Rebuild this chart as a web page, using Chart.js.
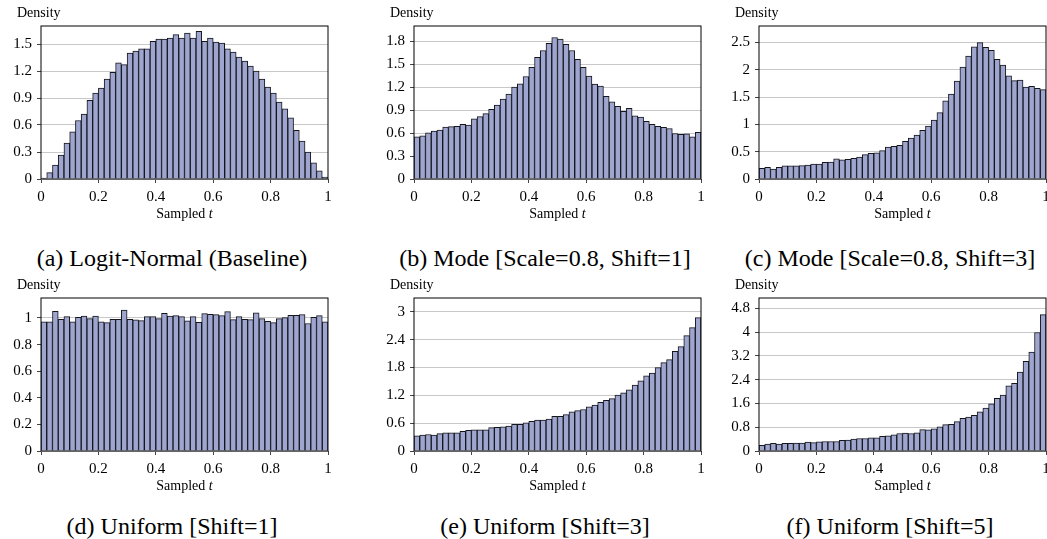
<!DOCTYPE html>
<html>
<head>
<meta charset="utf-8">
<script src="https://cdn.jsdelivr.net/npm/chart.js@4.4.1/dist/chart.umd.min.js"></script>
<style>
    body { margin: 0; background: #fff; }
    #wrap { position: relative; width: 1047px; height: 539px; overflow: hidden; }
    canvas { position: absolute; }
    .cap { position: absolute; width: 360px; text-align: center; font: 24px "Liberation Serif", serif; line-height: 28px; color: #000; }
</style>
</head>
<body>
<div id="wrap"></div>
<script>
// histogram heights, 50 bins on [0, 1]
var logitNormal = [0.01, 0.07, 0.155, 0.265, 0.40, 0.525, 0.65, 0.72, 0.875, 0.955,
    1.01, 1.11, 1.185, 1.29, 1.27, 1.40, 1.42, 1.445, 1.445, 1.53,
    1.555, 1.555, 1.565, 1.605, 1.565, 1.62, 1.565, 1.64, 1.53, 1.565,
    1.52, 1.51, 1.445, 1.41, 1.355, 1.31, 1.255, 1.20, 1.11, 1.02,
    0.955, 0.855, 0.78, 0.68, 0.54, 0.42, 0.30, 0.18, 0.09, 0.02];
var modeShift1 = [0.55, 0.565, 0.605, 0.625, 0.64, 0.68, 0.685, 0.69, 0.715, 0.705,
    0.785, 0.815, 0.855, 0.91, 0.965, 1.045, 1.11, 1.20, 1.245, 1.34,
    1.46, 1.59, 1.68, 1.775, 1.85, 1.83, 1.76, 1.68, 1.565, 1.46,
    1.345, 1.24, 1.215, 1.08, 1.01, 0.95, 0.885, 0.925, 0.825, 0.81,
    0.755, 0.715, 0.69, 0.675, 0.66, 0.595, 0.585, 0.59, 0.55, 0.61];
var modeShift3 = [0.195, 0.215, 0.18, 0.215, 0.24, 0.24, 0.24, 0.245, 0.255, 0.275,
    0.275, 0.305, 0.31, 0.37, 0.35, 0.36, 0.38, 0.40, 0.445, 0.47,
    0.48, 0.52, 0.585, 0.60, 0.615, 0.69, 0.75, 0.805, 0.89, 0.97,
    1.08, 1.215, 1.43, 1.555, 1.79, 2.05, 2.25, 2.42, 2.495, 2.41,
    2.355, 2.19, 2.085, 1.89, 1.80, 1.81, 1.68, 1.695, 1.66, 1.635];
var uniformShift1 = [0.97, 0.97, 1.05, 0.99, 1.01, 0.97, 1.005, 1.015, 0.995, 1.015,
    0.97, 0.965, 0.99, 0.99, 1.06, 0.99, 0.985, 0.98, 1.01, 1.01,
    0.995, 1.035, 1.015, 1.018, 1.01, 0.978, 1.01, 0.968, 1.033, 1.028,
    1.025, 1.018, 1.048, 0.988, 1.01, 0.99, 0.988, 1.038, 0.995, 0.975,
    0.965, 0.995, 1.003, 1.02, 1.02, 1.025, 0.958, 1.005, 1.018, 0.97];
var uniformShift3 = [0.325, 0.345, 0.355, 0.345, 0.375, 0.39, 0.39, 0.39, 0.425, 0.445,
    0.455, 0.455, 0.455, 0.505, 0.51, 0.52, 0.54, 0.575, 0.575, 0.61,
    0.64, 0.665, 0.665, 0.69, 0.75, 0.75, 0.785, 0.845, 0.87, 0.895,
    0.95, 0.99, 1.05, 1.095, 1.13, 1.205, 1.255, 1.32, 1.42, 1.515,
    1.62, 1.68, 1.80, 1.905, 1.97, 2.15, 2.25, 2.49, 2.66, 2.875];
var uniformShift5 = [0.19, 0.23, 0.255, 0.23, 0.255, 0.255, 0.265, 0.265, 0.30, 0.28,
    0.31, 0.32, 0.32, 0.32, 0.355, 0.365, 0.40, 0.42, 0.42, 0.445,
    0.445, 0.49, 0.51, 0.545, 0.59, 0.60, 0.59, 0.61, 0.72, 0.71,
    0.745, 0.81, 0.89, 0.90, 0.99, 1.10, 1.145, 1.20, 1.32, 1.445,
    1.59, 1.77, 1.88, 2.19, 2.28, 2.655, 3.02, 3.33, 3.99, 4.59];

// tick labels
var xTicks = [0, 0.2, 0.4, 0.6, 0.8, 1];
var yTicksA = [0, 0.3, 0.6, 0.9, 1.2, 1.5];
var yTicksB = [0, 0.3, 0.6, 0.9, 1.2, 1.5, 1.8];
var yTicksC = [0, 0.5, 1, 1.5, 2, 2.5];
var yTicksD = [0, 0.2, 0.4, 0.6, 0.8, 1];
var yTicksE = [0, 0.6, 1.2, 1.8, 2.4, 3];
var yTicksF = [0, 0.8, 1.6, 2.4, 3.2, 4, 4.8];

var captions = ["(a) Logit-Normal (Baseline)", "(b) Mode [Scale=0.8, Shift=1]", "(c) Mode [Scale=0.8, Shift=3]",
    "(d) Uniform [Shift=1]", "(e) Uniform [Shift=3]", "(f) Uniform [Shift=5]"];

var panels = [
    { values: logitNormal, yMax: 1.7, yTicks: yTicksA },
    { values: modeShift1, yMax: 2.0, yTicks: yTicksB },
    { values: modeShift3, yMax: 2.8, yTicks: yTicksC },
    { values: uniformShift1, yMax: 1.15, yTicks: yTicksD },
    { values: uniformShift3, yMax: 3.3, yTicks: yTicksE },
    { values: uniformShift5, yMax: 5.15, yTicks: yTicksF }
];

var plotLefts = [41, 414, 759];
var plotTops = [26, 298];
var capTops = [244, 512];
var serif = '"Liberation Serif", "Times New Roman", serif';

// frame + "Density" + "Sampled t"
var decor = {
    id: 'decor',
    afterDatasetsDraw: function (chart) {
        var ctx = chart.ctx, a = chart.chartArea;
        ctx.save();
        ctx.strokeStyle = '#000';
        ctx.lineWidth = 1;
        ctx.strokeRect(a.left, a.top, a.right - a.left, a.bottom - a.top);
        ctx.fillStyle = '#000';
        ctx.textBaseline = 'alphabetic';
        ctx.font = '14px ' + serif;
        ctx.textAlign = 'left';
        ctx.fillText('Density', a.left - 24, a.top - 9);
        var w1 = ctx.measureText('Sampled ').width;
        ctx.font = 'italic 14px ' + serif;
        var w2 = ctx.measureText('t').width;
        var x0 = (a.left + a.right) / 2 - (w1 + w2) / 2;
        var y0 = a.bottom + 39;
        ctx.font = '14px ' + serif;
        ctx.fillText('Sampled ', x0, y0);
        ctx.font = 'italic 14px ' + serif;
        ctx.fillText('t', x0 + w1, y0);
        ctx.restore();
    }
};

var wrap = document.getElementById('wrap');

panels.forEach(function (p, k) {
    var col = k % 3, row = Math.floor(k / 3);
    var cv = document.createElement('canvas');
    cv.width = 340;
    cv.height = 224;
    cv.style.left = (plotLefts[col] - 41) + 'px';
    cv.style.top = (plotTops[row] - 26) + 'px';
    wrap.appendChild(cv);

    var cap = document.createElement('div');
    cap.className = 'cap';
    cap.textContent = captions[k];
    cap.style.left = (plotLefts[col] + 144 - 13 - 180) + 'px';
    cap.style.top = capTops[row] + 'px';
    wrap.appendChild(cap);

    var n = p.values.length;
    var pts = p.values.map(function (v, i) { return { x: (i + 0.5) / n, y: v }; });

    new Chart(cv.getContext('2d'), {
        type: 'bar',
        data: {
            datasets: [{
                data: pts,
                backgroundColor: 'rgb(158, 166, 208)',
                borderColor: '#15151c',
                borderWidth: 1,
                barPercentage: 1,
                categoryPercentage: 1
            }]
        },
        options: {
            responsive: false,
            animation: false,
            layout: { padding: { top: 26, right: 12, left: 0, bottom: 0 } },
            plugins: { legend: { display: false }, tooltip: { enabled: false } },
            scales: {
                x: {
                    type: 'linear', min: 0, max: 1, offset: false,
                    afterBuildTicks: function (s) { s.ticks = xTicks.map(function (v) { return { value: v }; }); },
                    afterFit: function (s) { s.height = 45; },
                    grid: { drawOnChartArea: false, tickLength: 4, tickColor: '#444', offset: false },
                    border: { display: false },
                    ticks: {
                        autoSkip: false, maxRotation: 0, padding: 5, color: '#000',
                        font: { family: serif, size: 15 },
                        callback: function (v) { return String(v); }
                    }
                },
                y: {
                    min: 0, max: p.yMax,
                    afterBuildTicks: function (s) { s.ticks = p.yTicks.map(function (v) { return { value: v }; }); },
                    afterFit: function (s) { s.width = 41; },
                    grid: { color: '#c8c8c8', lineWidth: 1, tickLength: 4, tickColor: '#444' },
                    border: { display: false },
                    ticks: {
                        padding: 5, color: '#000',
                        font: { family: serif, size: 15 },
                        callback: function (v) { return String(v); }
                    }
                }
            }
        },
        plugins: [decor]
    });
});
</script>
</body>
</html>
